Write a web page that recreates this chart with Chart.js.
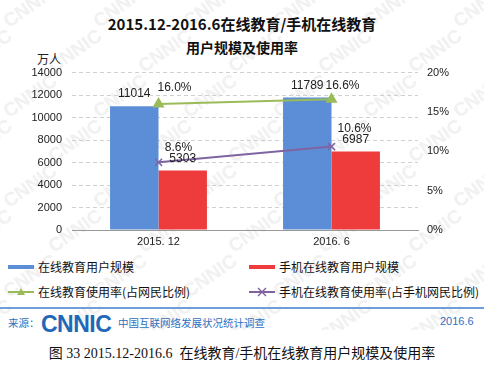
<!DOCTYPE html>
<html>
<head>
<meta charset="utf-8">
<script src="https://cdn.jsdelivr.net/npm/chart.js@4.4.1/dist/chart.umd.min.js"></script>
<style>
  body { margin: 0; background: #fff; font-family: "Noto Sans CJK SC", sans-serif; }
  #wrap { position: relative; width: 484px; height: 368px; overflow: hidden; }
  #wm { position: absolute; left: 0; top: 0; width: 484px; height: 330px; overflow: hidden; }
  .wm { position: absolute; font-family: "Liberation Sans", sans-serif; font-weight: bold; font-size: 19px; color: #f1f1f1; transform: rotate(-35deg); }
  .t { position: absolute; white-space: nowrap; }
  #title1 { top: 13px; left: 0; width: 484px; text-align: center; font-size: 15px; font-weight: bold; color: #111; }
  #title2 { top: 37px; left: 0; width: 484px; text-align: center; font-size: 14px; font-weight: bold; color: #111; }
  #unit { top: 50px; left: 37px; font-size: 12px; color: #222; }
  #chartBox { position: absolute; left: 0; top: 56px; width: 484px; height: 200px; }
  .leg { font-size: 12px; color: #111; }
  .leg svg { position: absolute; left: 0; top: 0; }
  #rule { position: absolute; left: 0; top: 307px; width: 484px; height: 2px; background: #6f9fd8; }
  .foot { color: #2f6fbf; font-size: 10.5px; }
  #logo { top: 311px; left: 41px; font-family: "Liberation Sans", sans-serif; font-weight: bold; font-size: 23px; color: #1f68b8; letter-spacing: -0.5px; }
  #caption { top: 342px; left: 0; width: 484px; text-align: center; font-size: 14px; color: #111; font-family: "Liberation Serif", "Noto Sans CJK SC", serif; }
</style>
</head>
<body>
<div id="wrap">
  <div id="wm"></div>
  <div class="t" id="title1">2015.12-2016.6在线教育/手机在线教育</div>
  <div class="t" id="title2">用户规模及使用率</div>
  <div class="t" id="unit">万人</div>
  <div id="chartBox"><canvas id="myChart" width="484" height="200"></canvas></div>

  <div class="t leg" style="left:8px;top:258px;">
    <svg width="26" height="18"><rect x="0" y="7" width="26" height="4" fill="#5b8ed6"/></svg>
    <span style="margin-left:30px">在线教育用户规模</span>
  </div>
  <div class="t leg" style="left:249px;top:258px;">
    <svg width="26" height="18"><rect x="0" y="7" width="26" height="4" fill="#ee3b3b"/></svg>
    <span style="margin-left:30px">手机在线教育用户规模</span>
  </div>
  <div class="t leg" style="left:8px;top:283px;">
    <svg width="26" height="18"><line x1="0" y1="9" x2="26" y2="9" stroke="#9bbb59" stroke-width="2"/><polygon points="13,5 17,12 9,12" fill="#9bbb59"/></svg>
    <span style="margin-left:30px">在线教育使用率(占网民比例)</span>
  </div>
  <div class="t leg" style="left:249px;top:283px;">
    <svg width="26" height="18"><line x1="0" y1="9" x2="26" y2="9" stroke="#8064a2" stroke-width="2"/><line x1="9" y1="5" x2="17" y2="13" stroke="#8064a2" stroke-width="1.5"/><line x1="17" y1="5" x2="9" y2="13" stroke="#8064a2" stroke-width="1.5"/></svg>
    <span style="margin-left:30px">手机在线教育使用率(占手机网民比例)</span>
  </div>

  <div id="rule"></div>
  <div class="t foot" style="left:8px;top:315px;">来源：</div>
  <div class="t" id="logo">CNNIC</div>
  <div class="t foot" style="left:118px;top:315px;">中国互联网络发展状况统计调查</div>
  <div class="t foot" style="left:440px;top:315px;font-family:'Liberation Sans',sans-serif;font-size:11px;">2016.6</div>
  <div class="t" id="caption">图 33 2015.12-2016.6&nbsp; 在线教育/手机在线教育用户规模及使用率</div>
</div>

<script>
const labels = ["2015. 12", "2016. 6"];
const eduUsers = [11014, 11789];
const mobileEduUsers = [5303, 6987];
const eduRate = [16.0, 16.6];
const mobileEduRate = [8.6, 10.6];
const leftTicks = [0, 14000, 2000];
const rightTicks = [0, 20, 5];

// faint background watermark
const wm = document.getElementById("wm");
for (let row = 0; row < 8; row++) {
  for (let col = -1; col < 6; col++) {
    const d = document.createElement("div");
    d.className = "wm";
    d.textContent = "CNNIC";
    d.style.left = (col * 90 + (row % 2) * 45) + "px";
    d.style.top = (row * 45 - 5) + "px";
    wm.appendChild(d);
  }
}

// label offsets for the rate lines (dx, dy in px)
const lineLabelOffset = {
  2: [[16, -16], [11, -14]],
  3: [[20, -15], [23, -18]],
};

const valueLabels = {
  id: "valueLabels",
  afterDatasetsDraw(chart) {
    const ctx = chart.ctx;
    ctx.save();
    ctx.font = "12px 'Liberation Sans', Arial, sans-serif";
    ctx.fillStyle = "#222";
    ctx.textAlign = "center";
    ctx.textBaseline = "middle";
    chart.data.datasets.forEach((ds, i) => {
      const meta = chart.getDatasetMeta(i);
      meta.data.forEach((el, j) => {
        if (ds.type === "line") {
          const off = lineLabelOffset[i][j];
          ctx.fillText(ds.data[j].toFixed(1) + "%", el.x + off[0], el.y + off[1]);
        } else {
          ctx.fillText(String(ds.data[j]), el.x, el.y - 12);
        }
      });
    });
    ctx.restore();
  },
};

const tickFont = { size: 11, family: "'Liberation Sans', Arial" };

const ctx = document.getElementById("myChart").getContext("2d");
const myChart = new Chart(ctx, {
  data: {
    labels: labels,
    datasets: [
      {
        type: "bar",
        label: "在线教育用户规模",
        data: eduUsers,
        backgroundColor: "#5b8ed6",
        yAxisID: "y",
        order: 2,
      },
      {
        type: "bar",
        label: "手机在线教育用户规模",
        data: mobileEduUsers,
        backgroundColor: "#ee3b3b",
        yAxisID: "y",
        order: 2,
      },
      {
        type: "line",
        label: "在线教育使用率(占网民比例)",
        data: eduRate,
        borderColor: "#9bbb59",
        backgroundColor: "#9bbb59",
        borderWidth: 2,
        pointStyle: "triangle",
        pointRadius: 5,
        yAxisID: "y1",
        order: 1,
      },
      {
        type: "line",
        label: "手机在线教育使用率(占手机网民比例)",
        data: mobileEduRate,
        borderColor: "#8064a2",
        backgroundColor: "#8064a2",
        borderWidth: 2,
        pointStyle: "crossRot",
        pointRadius: 5,
        pointBorderWidth: 1.5,
        yAxisID: "y1",
        order: 1,
      },
    ],
  },
  options: {
    responsive: false,
    animation: false,
    layout: { padding: { top: 16, left: 0, right: 0, bottom: 0 } },
    plugins: { legend: { display: false }, tooltip: { enabled: false } },
    datasets: { bar: { categoryPercentage: 0.56, barPercentage: 1.0 } },
    scales: {
      x: {
        grid: { display: false, drawTicks: false },
        border: { display: true, color: "#999" },
        ticks: { color: "#222", font: tickFont, padding: 5 },
        afterFit(s) { s.height = 26; },
      },
      y: {
        position: "left",
        min: leftTicks[0],
        max: leftTicks[1],
        ticks: { stepSize: leftTicks[2], color: "#222", font: tickFont, padding: 10,
                 callback: (v) => String(v) },
        grid: { color: "#d0d0d0", drawTicks: false },
        border: { display: false, dash: [4, 3] },
        afterFit(s) { s.width = 72; },
      },
      y1: {
        position: "right",
        min: rightTicks[0],
        max: rightTicks[1],
        ticks: { stepSize: rightTicks[2], color: "#222", font: tickFont, padding: 9,
                 callback: (v) => v + "%" },
        grid: { display: false, drawTicks: false },
        border: { display: false },
        afterFit(s) { s.width = 66; },
      },
    },
  },
  plugins: [valueLabels],
});
</script>
</body>
</html>
